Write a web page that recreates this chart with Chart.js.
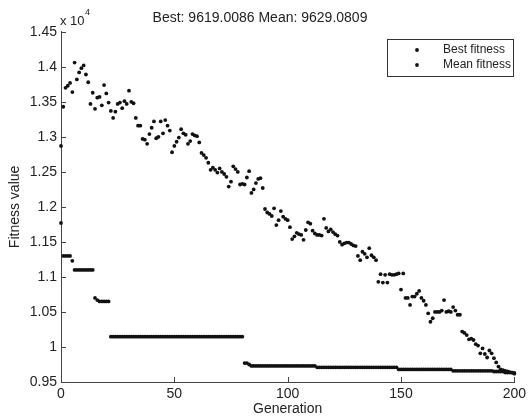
<!DOCTYPE html>
<html>
<head>
<meta charset="utf-8">
<script src="https://cdn.jsdelivr.net/npm/chart.js@4.4.0/dist/chart.umd.min.js"></script>
<style>
html,body{margin:0;padding:0;background:#fff;}
#wrap{width:530px;height:418px;}
</style>
</head>
<body>
<div id="wrap"><canvas id="c" width="530" height="418"></canvas></div>
<script>
const titleText = "Best: 9619.0086 Mean: 9629.0809";
const xTitle = "Generation";
const yTitle = "Fitness value";
const seriesNames = ["Best fitness", "Mean fitness"];
const generations = Array.from({length: 201}, (_, i) => i);
const yTicks = [9500, 10000, 10500, 11000, 11500, 12000, 12500, 13000, 13500, 14000, 14500];
const xTicks = [0, 50, 100, 150, 200];

const bestFitness = [
11770,11300,11300,11300,11300,11230,11100,11100,11100,11100,
11100,11100,11100,11100,11100,10700,10670,10650,10650,10650,
10650,10650,10147,10147,10147,10147,10147,10147,10147,10147,
10147,10147,10147,10147,10147,10147,10147,10147,10147,10147,
10147,10147,10147,10147,10147,10147,10147,10147,10147,10147,
10147,10147,10147,10147,10147,10147,10147,10147,10147,10147,
10147,10147,10147,10147,10147,10147,10147,10147,10147,10147,
10147,10147,10147,10147,10147,10147,10147,10147,10147,10147,
10147,9770,9770,9750,9730,9730,9730,9730,9730,9730,
9730,9730,9730,9730,9730,9730,9730,9730,9730,9730,
9730,9730,9730,9730,9730,9730,9730,9730,9730,9730,
9730,9730,9730,9710,9710,9710,9710,9710,9710,9710,
9710,9710,9710,9710,9710,9710,9710,9710,9710,9710,
9710,9710,9710,9710,9710,9710,9710,9710,9710,9710,
9710,9710,9710,9710,9710,9710,9710,9710,9710,9680,
9680,9680,9680,9680,9680,9680,9680,9680,9680,9680,
9680,9680,9680,9680,9680,9680,9680,9680,9680,9680,
9680,9680,9680,9660,9660,9660,9660,9660,9660,9660,
9660,9660,9660,9660,9660,9660,9660,9660,9660,9660,
9660,9650,9650,9650,9650,9650,9635,9635,9635,9635,
9619.0086
];

const meanFitness = [
12870,13430,13700,13730,13770,13640,14060,13820,13920,13980,
14020,13890,13780,13470,13630,13400,13560,13570,13450,13740,
13620,13490,13370,13270,13360,13470,13490,13410,13510,13470,
13660,13500,13480,13270,13160,13160,12970,12960,12900,13040,
13130,13220,12980,13000,13220,13050,13240,13160,13090,12780,
12870,12930,12990,13110,13050,13030,12900,12940,13040,13020,
13010,12920,12770,12740,12700,12630,12530,12560,12530,12490,
12550,12500,12470,12430,12290,12360,12580,12540,12500,12320,
12330,12320,12420,12510,12200,12250,12340,12400,12410,12270,
11970,11920,11900,11870,11980,11740,11810,11940,11860,11830,
11810,11710,11540,11580,11630,11610,11600,11530,11670,11780,
11760,11660,11620,11600,11600,11590,11830,11700,11650,11680,
11640,11610,11590,11500,11460,11480,11490,11490,11470,11450,
11440,11300,11240,11360,11330,11280,11410,11310,11280,11240,
10930,11040,10920,11030,10920,11040,11030,11030,11040,11050,
10820,11050,10700,10700,10600,10720,10720,10760,10800,10700,
10660,10600,10480,10360,10410,10500,10500,10500,10520,10670,
10500,10510,10500,10570,10520,10460,10460,10220,10200,10170,
10110,10120,10100,10040,10020,9910,9980,9900,9850,9950,
9910,9840,9780,9720,9680,9670,9660,9650,9640,9635,
9629.0809
];

const toPts = arr => generations.map((g, i) => ({x: g, y: arr[i]}));
const FONT = "'Liberation Sans', Arial, sans-serif";
const TXT = '#222';
const AX = '#444';

const decor = {
  id: 'decor',
  afterDraw(chart) {
    const ctx = chart.ctx;
    const xs = chart.scales.x, ys = chart.scales.y;
    const a = chart.chartArea;
    ctx.save();
    ctx.strokeStyle = AX;
    ctx.lineWidth = 1;
    ctx.beginPath();
    xs.ticks.forEach((t, i) => {
      const px = Math.round(xs.getPixelForTick(i)) + 0.5;
      ctx.moveTo(px, a.bottom); ctx.lineTo(px, a.bottom - 5);
    });
    ys.ticks.forEach((t, i) => {
      const py = Math.round(ys.getPixelForTick(i)) + 0.5;
      ctx.moveTo(a.left, py); ctx.lineTo(a.left + 5, py);
    });
    ctx.stroke();
    // exponent label
    ctx.fillStyle = TXT;
    ctx.textBaseline = 'middle';
    ctx.textAlign = 'left';
    ctx.font = "13px " + FONT;
    ctx.fillText("x 10", a.left - 1, 21);
    ctx.font = "9px " + FONT;
    ctx.fillText("4", a.left + 24, 13);
    // legend
    const lx = 387, ly = 39, lw = 126, lh = 37;
    ctx.fillStyle = '#fff';
    ctx.fillRect(lx, ly, lw, lh);
    ctx.strokeStyle = '#333';
    ctx.strokeRect(lx + 0.5, ly + 0.5, lw, lh);
    ctx.font = "12px " + FONT;
    chart.data.datasets.forEach((ds, i) => {
      const yy = ly + 11 + i * 15;
      ctx.fillStyle = '#111';
      ctx.beginPath();
      ctx.arc(417, yy, 1.9, 0, Math.PI * 2);
      ctx.fill();
      ctx.fillStyle = TXT;
      ctx.fillText(ds.label, 443, yy);
    });
    ctx.restore();
  }
};

new Chart(document.getElementById('c'), {
  type: 'scatter',
  data: {
    datasets: [
      {label: seriesNames[0], data: toPts(bestFitness), pointRadius: 1.9, pointHoverRadius: 1.9,
       backgroundColor: '#111', borderColor: '#111', borderWidth: 0, pointStyle: 'circle', clip: false},
      {label: seriesNames[1], data: toPts(meanFitness), pointRadius: 1.9, pointHoverRadius: 1.9,
       backgroundColor: '#111', borderColor: '#111', borderWidth: 0, pointStyle: 'circle', clip: false}
    ]
  },
  options: {
    responsive: false,
    animation: false,
    events: [],
    layout: {padding: {top: 0, right: 10, left: 0, bottom: 0}},
    plugins: {
      legend: {display: false},
      tooltip: {enabled: false},
      title: {display: true, text: titleText, color: TXT, font: {family: FONT, size: 14, weight: 'normal'},
              padding: {top: 10, bottom: 5}}
    },
    scales: {
      x: {
        type: 'linear', min: 0, max: 200,
        afterBuildTicks: s => { s.ticks = xTicks.map(v => ({value: v})); },
        afterFit: s => { s.height = 36; },
        grid: {display: true, drawOnChartArea: false, drawTicks: false},
        border: {display: true, color: AX, width: 1},
        ticks: {color: TXT, font: {family: FONT, size: 14}, padding: 4, maxRotation: 0},
        title: {display: true, text: xTitle, color: TXT, font: {family: FONT, size: 14}, padding: {top: 0, bottom: 0}}
      },
      y: {
        type: 'linear', min: 9500, max: 14500,
        afterBuildTicks: s => { s.ticks = yTicks.map(v => ({value: v})); },
        afterFit: s => { s.width = 61; },
        grid: {display: true, drawOnChartArea: false, drawTicks: false},
        border: {display: true, color: AX, width: 1},
        ticks: {color: TXT, font: {family: FONT, size: 14}, padding: 4,
                callback: v => String(Number((v / 10000).toFixed(2)))},
        title: {display: true, text: yTitle, color: TXT, font: {family: FONT, size: 14}, padding: {top: 7, bottom: 0}}
      }
    }
  },
  plugins: [decor]
});
</script>
</body>
</html>
